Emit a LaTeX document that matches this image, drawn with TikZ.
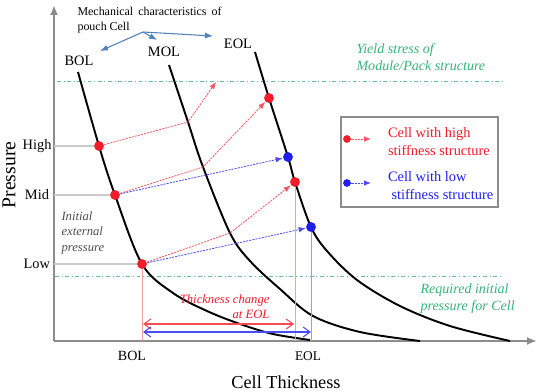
\documentclass[tikz,border=0pt]{standalone}
\usepackage{fontspec}
\setmainfont{Liberation Serif}
\newfontfamily\tnr{Liberation Serif}
\usetikzlibrary{arrows.meta, positioning, calc}
\definecolor{cred}{HTML}{F21C2A}
\definecolor{cpink}{HTML}{F4A0A0}
\definecolor{cblue}{HTML}{1E1EF0}
\definecolor{clblue}{HTML}{9A9AF2}
\definecolor{cgreen}{HTML}{36B47A}
\definecolor{csteel}{HTML}{4F81BD}
\definecolor{cgrey}{HTML}{8C8C8C}
\definecolor{ctext}{HTML}{505050}
\newcommand{\fs}[2]{\tnr\fontsize{#1}{#2}\selectfont}
\tikzset{
  every picture/.style={line width=0.6pt},
  curve/.style={draw=black, line width=1.1pt},
  axis/.style={draw=cgrey, line width=1.1pt, -{Latex[length=2mm, width=1.6mm]}},
  level/.style={draw=cgrey!45, line width=0.6pt},
  limit/.style={draw=cgreen!80, line width=0.5pt, dash pattern=on 2.2pt off 1.6pt on 0.4pt off 1.6pt},
  rdot/.style={circle, fill=cred, inner sep=0pt, minimum size=5.6pt},
  bdot/.style={circle, fill=cblue, inner sep=0pt, minimum size=5.6pt},
  rlink/.style={draw=cred!75, line width=0.45pt, dash pattern=on 1.2pt off 0.6pt, -{Latex[length=1.4mm, width=1.1mm]}},
  blink/.style={draw=cblue!80, line width=0.45pt, dash pattern=on 1.2pt off 0.6pt, -{Latex[length=1.4mm, width=1.1mm]}},
  rdrop/.style={draw=cpink, line width=0.5pt},
  bdrop/.style={draw=clblue, line width=0.5pt},
  rspan/.style={draw=cred!80, line width=0.6pt, {Straight Barb[length=1.4mm, width=2mm]}-{Straight Barb[length=1.4mm, width=2mm]}},
  bspan/.style={draw=cblue!80, line width=0.6pt, {Straight Barb[length=1.4mm, width=2mm]}-{Straight Barb[length=1.4mm, width=2mm]}},
  pointer/.style={draw=csteel, line width=0.6pt, -{Latex[length=1.6mm, width=1.2mm]}},
  txt/.style={inner sep=0pt},
  note/.style={inner sep=0pt, align=left, font=\fs{8}{9.6}\itshape, text=cgreen},
}

\begin{document}
\begin{tikzpicture}[x=0.02cm, y=-0.02cm]
  \useasboundingbox[fill=white] (0,0) rectangle (542,392);
  % axes
  \coordinate (origin) at (54,341);
  \coordinate (ytop) at (54,5);
  \coordinate (xend) at (537,341);
  \draw[axis] (origin) -- (ytop);
  \draw[axis] (origin) -- (xend);
  \node[txt, rotate=90, font=\fs{11.2}{13}] (ylab) at (9,175) {Pressure};
  \node[txt, font=\fs{10.4}{12}] (xlab) at (286,382) {Cell Thickness};
  % limits
  \coordinate (yieldL) at (57,81);
  \coordinate (yieldR) at (505,81);
  \coordinate (reqL) at (55,276);
  \coordinate (reqR) at (500,276);
  \draw[limit] (yieldL) -- (yieldR);
  \draw[limit] (reqL) -- (reqR);
  \node[note, anchor=west] (yield) at (356,57.5) {Yield stress of\\Module/Pack structure};
  \node[note, anchor=west] (req) at (420,298.5) {Required initial\\pressure for Cell};
  % curves
  \draw[curve] plot[smooth, tension=0.55] coordinates {(78,72) (99,146) (115,195) (142,264) (173,293) (207,311) (240,324) (273,334) (310,340)};
  \draw[curve] plot[smooth, tension=0.55] coordinates {(169,65) (188,122) (203,167) (230,233) (250,261) (280,289) (313,316) (360,332) (420,341)};
  \draw[curve] plot[smooth, tension=0.55] coordinates {(255,52) (269,98) (288,157) (295,182) (311,227) (327,251) (357,280) (400,306) (450,326) (510,341)};
  \node[txt, font=\fs{8.2}{9.6}] (lbolT) at (79,61) {BOL};
  \node[txt, font=\fs{8.2}{9.6}] (lmolT) at (164,52) {MOL};
  \node[txt, font=\fs{8.2}{9.6}] (leolT) at (238,44) {EOL};
  \node[txt, anchor=west, text width=82pt, align=justify, font=\fs{6.8}{8.5}] (mech) at (77,20.5) {Mechanical characteristics of pouch Cell};
  \coordinate (fork) at (143,32);
  \coordinate (forkM) at (157,40);
  \coordinate (forkE) at (213,36);
  \draw[pointer] (fork) -- (100,51);
  \draw[pointer] (fork) -- (forkM);
  \draw[pointer] (fork) -- (forkE);
  % pressure levels
  \node[rdot] (bolH) at (99,146) {};
  \node[rdot] (bolM) at (115,195) {};
  \node[rdot] (bolL) at (142,264) {};
  \draw[level] (origin |- bolH) -- (bolH);
  \draw[level] (origin |- bolM) -- (bolM);
  \draw[level] (origin |- bolL) -- (bolL);
  \node[txt, anchor=east, font=\fs{8.2}{9.6}] (high) at (52,146) {High};
  \node[txt, anchor=east, font=\fs{8.2}{9.6}] (mid) at (49.5,195) {Mid};
  \node[txt, anchor=east, font=\fs{8.2}{9.6}] (low) at (50.5,264) {Low};
  \node[txt, anchor=west, align=left, text=ctext, font=\fs{7.2}{8.8}\itshape] (init) at (61,232.5) {Initial\\external\\pressure};
  % end of life points
  \node[rdot] (eolT) at (269,98) {};
  \node[bdot] (eolB) at (288,157) {};
  \node[rdot] (eolM) at (295,182) {};
  \node[bdot] (eolL) at (311,227) {};
  \coordinate (molH) at (188,122);
  \coordinate (molM) at (203,167);
  \coordinate (molL) at (230,233);
  \coordinate (yieldT) at (216,82);
  \draw[rlink] (bolH) -- (molH) -- (yieldT);
  \draw[rlink] (bolM) -- (molM) -- (eolT);
  \draw[blink] (bolM) -- (eolB);
  \draw[rlink] (bolL) -- (molL) -- (eolM);
  \draw[blink] (bolL) -- (eolL);
  % thickness change
  \draw[rdrop] (bolL) -- (bolL |- origin);
  \draw[rdrop] (eolM) -- (eolM |- origin);
  \draw[bdrop] (eolL) -- (eolL |- origin);
  \coordinate (rspanL) at (143,324);
  \coordinate (rspanR) at (294,324);
  \coordinate (bspanL) at (143,332);
  \coordinate (bspanR) at (311,332);
  \draw[rspan] (rspanL) -- (rspanR);
  \draw[bspan] (bspanL) -- (bspanR);
  \node[txt, anchor=east, align=right, text=cred, font=\fs{7.2}{8.5}\itshape] (change) at (270,306.5) {Thickness change\\at EOL};
  \node[txt, font=\fs{8}{9.4}] (lbolB) at (132,356) {BOL};
  \node[txt, font=\fs{7.6}{9}] (leolB) at (308,356) {EOL};
  % legend
  \node[draw=cgrey, line width=0.8pt, minimum width=3.14cm, minimum height=1.8cm] (legend) at (419.5,162) {};
  \node[rdot, minimum size=4.4pt] (kred) at (347,139) {};
  \node[bdot, minimum size=4.4pt] (kblue) at (347,183) {};
  \coordinate (kredE) at (371,139);
  \coordinate (kblueE) at (371,183);
  \draw[rlink] (kred) -- (kredE);
  \draw[blink] (kblue) -- (kblueE);
  \node[txt, anchor=west, align=left, text=cred, font=\fs{8.2}{10.2}] (khigh) at (387.5,142) {Cell with high\\stiffness structure};
  \node[txt, anchor=west, align=left, text=cblue, font=\fs{8.2}{10.2}] (klow) at (387.5,186) {Cell with low\\\hspace{2pt}stiffness structure};
\end{tikzpicture}
\end{document}
